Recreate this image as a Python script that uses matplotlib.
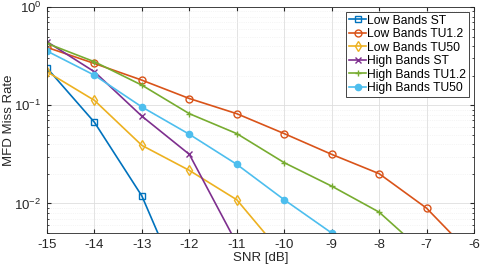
import numpy as np
import matplotlib
matplotlib.use("Agg")
import matplotlib.pyplot as plt

plt.rcParams['font.family'] = ['Liberation Sans', 'DejaVu Sans']

snr = [-15, -14, -13, -12, -11, -10, -9, -8, -7, -6]

low_st = [0.239, 0.067, 0.0119, 0.0009]
low_tu12 = [0.388, 0.266, 0.180, 0.117, 0.082, 0.0514, 0.0316, 0.0201, 0.00895, 0.00284]
low_tu50 = [0.219, 0.112, 0.039, 0.0217, 0.0109, 0.0029]
high_st = [0.443, 0.219, 0.0773, 0.0316, 0.0039]
high_tu12 = [0.426, 0.277, 0.160, 0.082, 0.0514, 0.026, 0.015, 0.00816, 0.003]
high_tu50 = [0.356, 0.202, 0.096, 0.0506, 0.025, 0.0109, 0.005]

series = [
    ('Low Bands ST', low_st, '#0072BD', 's'),
    ('Low Bands TU1.2', low_tu12, '#D95319', 'o'),
    ('Low Bands TU50', low_tu50, '#EDB120', 'd'),
    ('High Bands ST', high_st, '#7E2F8E', 'x'),
    ('High Bands TU1.2', high_tu12, '#77AC30', '+'),
    ('High Bands TU50', high_tu50, '#4DBEEE', 'o'),
]

fig = plt.figure(figsize=(4.8, 2.68), dpi=100)
ax = fig.add_axes([47/480, 1-233/268, 427/480, 226/268])

for name, vals, col, mk in series:
    # last series looks like filled blobs in the reference
    fill = col if name == 'High Bands TU50' else 'none'
    ax.semilogy(snr[:len(vals)], vals, color=col, marker=mk, lw=1.2,
                ms=4.5 if fill != 'none' else 5, mfc=fill, mew=1.0, label=name)

ax.set_xlim(-15, -6)
ax.set_ylim(0.005, 1)
ax.set_xticks(np.arange(-15, -5, 1))
ax.set_xticklabels([str(v) for v in range(-15, -5)])
ax.grid(True, which='major', color='#dedede', lw=0.6)
ax.grid(True, which='minor', color='#ececec', lw=0.5, ls=':')
ax.tick_params(which='both', direction='in', top=True, right=True, labelsize=9.5,
               color='#262626', labelcolor='#262626')
ax.tick_params(which='major', length=3, pad=4)
ax.tick_params(which='minor', length=1.5)
for s in ax.spines.values():
    s.set_color('#262626')
    s.set_linewidth(0.6)
ax.set_xlabel('SNR [dB]', fontsize=9.5, labelpad=1, color='#262626')
ax.set_ylabel('MFD Miss Rate', fontsize=9.5, color='#262626')
ax.yaxis.set_label_coords(-0.075, 0.5)

leg = ax.legend(loc='upper right', bbox_to_anchor=(469/480, 1-11.7/268), bbox_transform=fig.transFigure,
                fontsize=8.7, handlelength=1.4, handletextpad=0.05, borderpad=0.25, labelspacing=0.12,
                borderaxespad=0, fancybox=False, framealpha=1, edgecolor='#262626')
leg.get_frame().set_linewidth(0.6)

fig.savefig('out.png', dpi=100)
